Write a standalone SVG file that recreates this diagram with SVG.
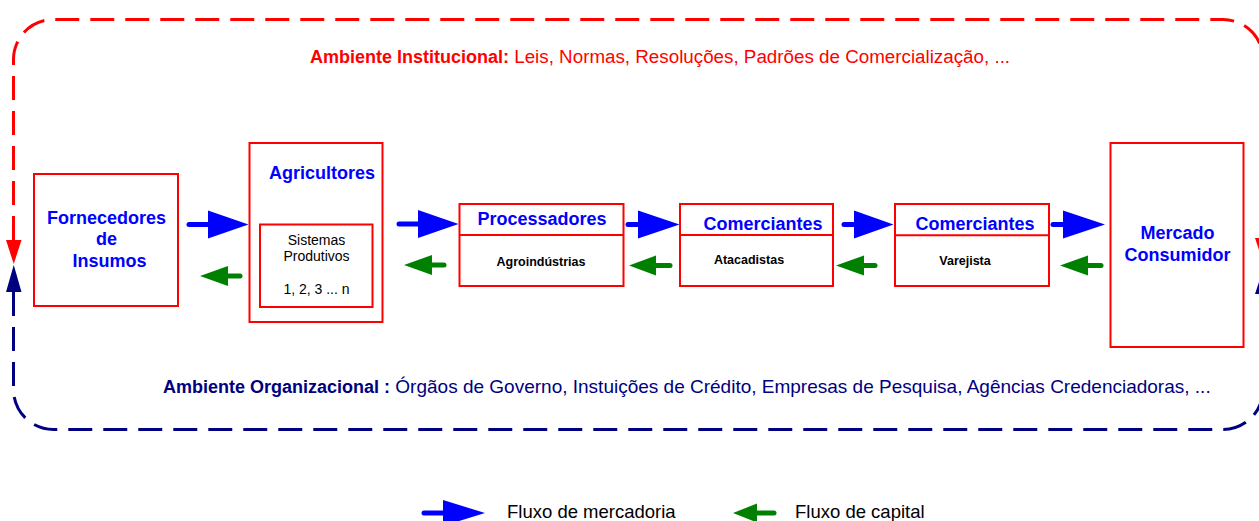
<svg xmlns="http://www.w3.org/2000/svg" width="1259" height="521" viewBox="0 0 1259 521">
<style>
text{font-family:"Liberation Sans",Arial,sans-serif}
.box{fill:#fff;stroke:#ff0000;stroke-width:2}
.ttl{font-size:18px;font-weight:bold;fill:#0000ff;text-anchor:middle}
.sub{font-size:12.5px;font-weight:bold;fill:#000;text-anchor:middle}
.sm{font-size:14px;fill:#000;text-anchor:middle}
.fw line{stroke:#0000ff;stroke-width:5;stroke-linecap:round}
.fw polygon{fill:#0000ff}
.bw line{stroke:#008000;stroke-width:5;stroke-linecap:round}
.bw polygon{fill:#008000}
</style>
<rect width="1259" height="521" fill="#fff"/>
<g id="environments">
<path d="M13.5 240 V59.5 A40 40 0 0 1 53.5 19.5 H1223 A40 40 0 0 1 1263 59.5 V238" fill="none" stroke="#ff0000" stroke-width="3" stroke-dasharray="24 11"/>
<polygon points="6,240 21.5,240 13.75,264" fill="#ff0000"/>
<polygon points="1255,238 1271,238 1263,262" fill="#ff0000"/>
<path d="M13.5 292 V389.5 A40 40 0 0 0 53.5 429.5 H1223 A40 40 0 0 0 1263 389.5 V294" fill="none" stroke="#000080" stroke-width="3" stroke-dasharray="24 11"/>
<polygon points="13.75,265 6,292 21.5,292" fill="#000080"/>
<polygon points="1263,270 1255,294 1271,294" fill="#000080"/>
<text x="310" y="63" font-size="18" fill="#ff0000"><tspan font-weight="bold">Ambiente Institucional:</tspan><tspan font-size="18.8"> Leis, Normas, Resoluções, Padrões de Comercialização, ...</tspan></text>
<text x="163" y="393" font-size="18" fill="#000080"><tspan font-weight="bold">Ambiente Organizacional :</tspan><tspan font-size="19"> Órgãos de Governo, Instuições de Crédito, Empresas de Pesquisa, Agências Credenciadoras,  ...</tspan></text>
</g>
<g id="fornecedores">
<rect class="box" x="34" y="174" width="144" height="132"/>
<text class="ttl" x="106.5" y="223.5">Fornecedores</text>
<text class="ttl" x="106.5" y="245">de</text>
<text class="ttl" x="109.5" y="267">Insumos</text>
</g>
<g id="agricultores">
<rect class="box" x="249.5" y="143" width="133" height="179"/>
<text class="ttl" x="322" y="179">Agricultores</text>
<rect class="box" x="260" y="224.5" width="112.5" height="82.5"/>
<text class="sm" x="316.5" y="244.5">Sistemas</text>
<text class="sm" x="316.5" y="260.5">Produtivos</text>
<text class="sm" x="316.5" y="293.5">1, 2, 3 ... n</text>
</g>
<g id="processadores">
<rect class="box" x="459.5" y="204" width="164" height="82"/>
<line x1="459.5" y1="235" x2="623.5" y2="235" stroke="#ff0000" stroke-width="2"/>
<text class="ttl" x="542" y="225">Processadores</text>
<text class="sub" x="541" y="266">Agroindústrias</text>
</g>
<g id="atacadistas">
<rect class="box" x="680" y="204" width="153" height="82"/>
<line x1="680" y1="235" x2="833" y2="235" stroke="#ff0000" stroke-width="2"/>
<text class="ttl" x="763" y="229.5">Comerciantes</text>
<text class="sub" x="749" y="264">Atacadistas</text>
</g>
<g id="varejista">
<rect class="box" x="895" y="204" width="154" height="82"/>
<line x1="895" y1="235.3" x2="1049" y2="235.3" stroke="#ff0000" stroke-width="2"/>
<text class="ttl" x="975" y="229.5">Comerciantes</text>
<text class="sub" x="965" y="264.5">Varejista</text>
</g>
<g id="mercado">
<rect class="box" x="1110.5" y="143" width="133" height="204"/>
<text class="ttl" x="1177.5" y="239">Mercado</text>
<text class="ttl" x="1177.5" y="261">Consumidor</text>
</g>
<g id="connectors">
<g class="fw">
<line x1="189" y1="224.5" x2="210" y2="224.5"/><polygon points="208,210.5 248.5,224.5 208,238.5"/>
<line x1="399" y1="224" x2="420" y2="224"/><polygon points="418,210 458.5,224 418,238"/>
<line x1="628" y1="224.5" x2="640" y2="224.5"/><polygon points="638,210.5 679.5,224.5 638,238.5"/>
<line x1="844" y1="224.5" x2="856" y2="224.5"/><polygon points="854,210.5 893.5,224.5 854,238.5"/>
<line x1="1053" y1="224.5" x2="1065" y2="224.5"/><polygon points="1063,210.5 1105,224.5 1063,238.5"/>
</g>
<g class="bw">
<line x1="226" y1="276" x2="240" y2="276"/><polygon points="200,276 228,266 228,286"/>
<line x1="430" y1="265" x2="444" y2="265"/><polygon points="404,265 432,255 432,275"/>
<line x1="654" y1="265.5" x2="670" y2="265.5"/><polygon points="629,265.5 656,255.5 656,275.5"/>
<line x1="862" y1="265.5" x2="875" y2="265.5"/><polygon points="836,265.5 864,255.5 864,275.5"/>
<line x1="1086" y1="265.5" x2="1101" y2="265.5"/><polygon points="1060,265.5 1088,255.5 1088,275.5"/>
</g>
</g>
<g id="legend">
<g class="fw"><line x1="424" y1="513" x2="445" y2="513"/><polygon points="443,500 485,513 443,526"/></g>
<text x="507" y="517.5" font-size="18.5" fill="#000">Fluxo de mercadoria</text>
<g class="bw"><line x1="755" y1="513" x2="774" y2="513"/><polygon points="733,513 757,503.5 757,522.5"/></g>
<text x="795" y="517.5" font-size="18.5" fill="#000">Fluxo de capital</text>
</g>
</svg>
